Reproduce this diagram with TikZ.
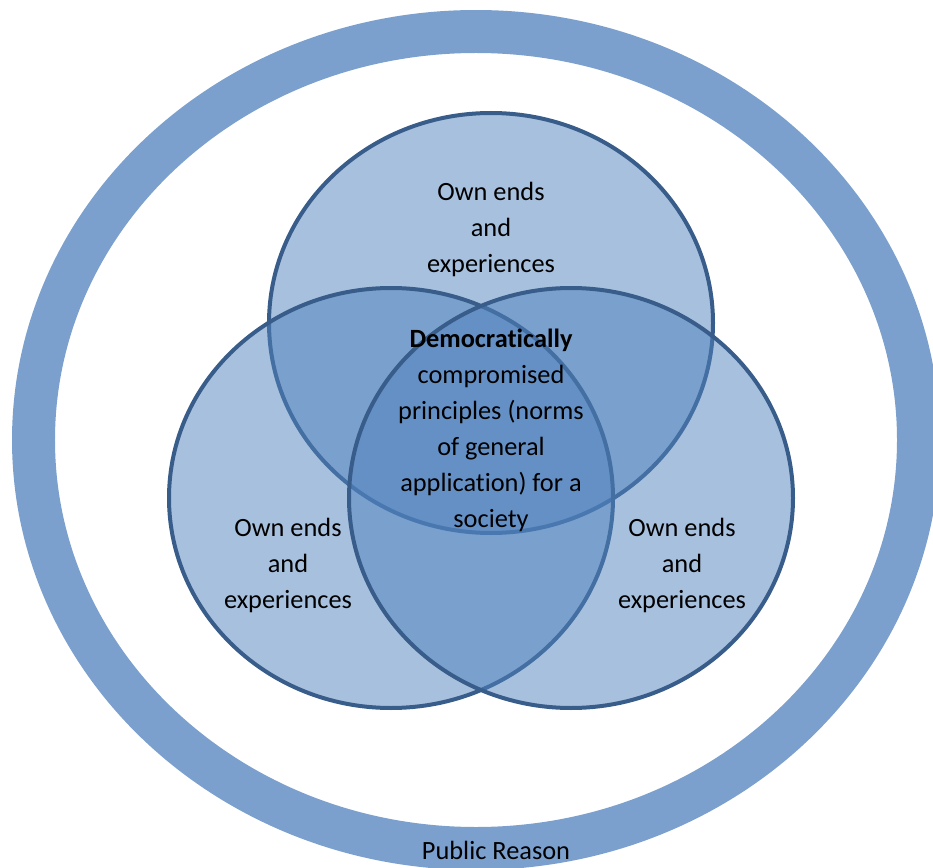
\documentclass[tikz,border=0pt]{standalone}
\usepackage{fontspec}
\setmainfont{Carlito}[Ligatures=NoCommon]
\usepackage{tikz}
\usetikzlibrary{backgrounds}
\definecolor{accentblue}{RGB}{79,129,189}
\definecolor{edgeblue}{RGB}{56,93,138}
\definecolor{ringblue}{RGB}{123,160,205}
\tikzset{
  venn/.style={fill=accentblue, fill opacity=0.5, draw=edgeblue, line width=0.08cm},
  ring/.style={draw=ringblue, line width=0.86cm},
  words/.style={align=center, text=black, font=\fontsize{15}{20.5}\selectfont}
}

\begin{document}
\begin{tikzpicture}[x=0.02cm,y=-0.02cm]
\useasboundingbox (0,0) rectangle (933,868);
\clip (0,0) rectangle (933,868);
% public reason ring
\draw[ring] (476,440) ellipse [x radius=442.5, y radius=408.5];
% the three circles
\draw[venn] (491,323) ellipse [x radius=222, y radius=210];
\draw[venn] (391,498) ellipse [x radius=222, y radius=210];
\draw[venn] (571,498) ellipse [x radius=222, y radius=210];
% texts
\node[words] (top) at (491,229) {Own ends\\and\\experiences};
\node[words] (left) at (288,565) {Own ends\\and\\experiences};
\node[words] (right) at (682,565) {Own ends\\and\\experiences};
\node[words] (centre) at (491,430) {\textbf{Democratically}\\compromised\\principles (norms\\of general\\application) for a\\society};
\node[words] (reason) at (496,850) {Public Reason};
\end{tikzpicture}
\end{document}
